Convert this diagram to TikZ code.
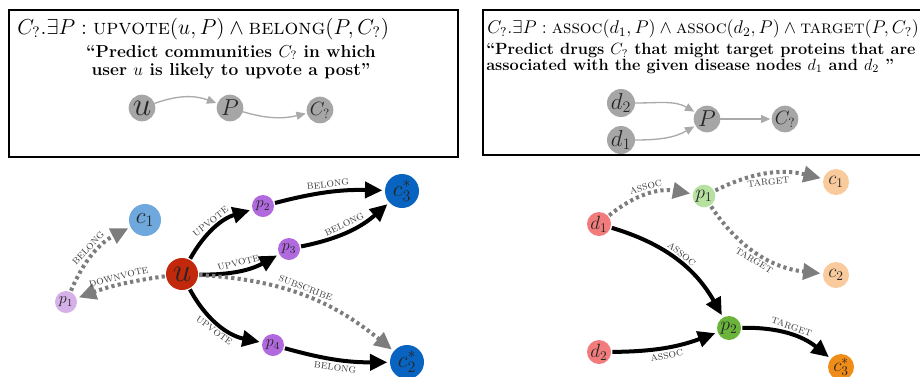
\RequirePackage{fix-cm}
\documentclass[tikz,border=0pt]{standalone}
\usepackage{graphicx}
\usetikzlibrary{arrows.meta}
\usetikzlibrary{calc,positioning}

\definecolor{miniGray}{RGB}{166,166,166}
\definecolor{miniEdge}{RGB}{170,170,170}
\definecolor{dotGray}{RGB}{125,125,125}
\definecolor{userRed}{RGB}{194,40,12}
\definecolor{postLight}{RGB}{214,176,232}
\definecolor{postPurple}{RGB}{176,106,222}
\definecolor{commLight}{RGB}{111,168,220}
\definecolor{commBlue}{RGB}{8,100,192}
\definecolor{disRed}{RGB}{242,124,124}
\definecolor{protLight}{RGB}{183,225,161}
\definecolor{protGreen}{RGB}{106,180,60}
\definecolor{drugLight}{RGB}{249,203,156}
\definecolor{drugOrange}{RGB}{240,140,24}

\begin{document}
\begin{tikzpicture}[x=0.75pt,y=-0.75pt]
    \def\leftFont{\fontsize{13}{13.5}\selectfont}
    \def\rightFont{\fontsize{12.2}{9.8}\selectfont}
    \def\tipLength{13pt}
    \def\tipWidth{12pt}

    \tikzstyle{ent}=[circle,inner sep=0pt,outer sep=0pt,text=black!85]
    \tikzstyle{mini}=[ent,fill=miniGray,minimum size=20pt]
    \tikzstyle{miniarrow}=[draw=miniEdge,line width=1pt,-{Triangle[length=7pt,width=6pt]},shorten >=1pt]
    \tikzstyle{rel}=[line width=3pt,-{Triangle[length=\tipLength,width=\tipWidth]},shorten >=2pt,shorten <=1pt]
    \tikzstyle{miss}=[rel,draw=dotGray,dash pattern=on 2.4pt off 2.4pt]
    \tikzstyle{lbl}=[font=\fontsize{9}{10}\selectfont\scshape,text=black!75,sloped,midway,inner sep=2pt]

    \useasboundingbox (0,0) rectangle (920,376);

    % Query boxes
    \draw[line width=1.5pt] (9,10) rectangle (458,157);
    \draw[line width=1.5pt] (483,10) rectangle (960,155);

    \node[anchor=west,font=\leftFont,inner sep=0pt] (query1) at (17,29)
        {\scalebox{1.25}{$C_?.\exists P : \textsc{upvote}(u,P) \wedge \textsc{belong}(P,C_?)$}};
    \node[align=center,font=\leftFont\bfseries,inner sep=0pt] (quote1) at (231,62)
        {``Predict communities $C_?$ in which\\ user $u$ is likely to upvote a post''};

    \node[anchor=west,font=\rightFont,inner sep=0pt] (query2) at (487,29)
        {\scalebox{1.13}{$C_?.\exists P : \textsc{assoc}(d_1,P) \wedge \textsc{assoc}(d_2,P) \wedge \textsc{target}(P,C_?)$}};
    \node[anchor=north west,align=left,font=\rightFont\bfseries,inner sep=0pt] (quote2) at (486,43)
        {``Predict drugs $C_?$ that might target proteins that are\\ associated with the given disease nodes $d_1$ and $d_2$ ''};

    % Query graphs
    \node[mini,font=\Huge] (mu) at (142,108) {$u$};
    \node[mini,font=\LARGE] (mP) at (230,108) {$P$};
    \node[mini,font=\Large] (mC) at (320,110) {$C_?$};
    \draw[miniarrow] (mu) to[bend left=20] (mP);
    \draw[miniarrow] (mP) to[bend right=15] (mC);

    \node[mini,font=\LARGE] (md2) at (621,103) {$d_2$};
    \node[mini,font=\LARGE] (md1) at (621,140) {$d_1$};
    \node[mini,font=\LARGE] (mP2) at (707,119) {$P$};
    \node[mini,font=\Large] (mC2) at (785,119) {$C_?$};
    \draw[miniarrow] (md2.east) to[out=0,in=150] (mP2);
    \draw[miniarrow] (md1.east) to[out=0,in=210] (mP2);
    \draw[miniarrow] (mP2) -- (mC2);

    % Social network
    \node[ent,fill=userRed,minimum size=24pt,font=\Huge] (u) at (182,274) {$u$};
    \node[ent,fill=postLight,minimum size=16.5pt,font=\large] (p1) at (66,302) {$p_1$};
    \node[ent,fill=commLight,minimum size=24pt,font=\LARGE] (c1) at (145,220) {$c_1$};
    \node[ent,fill=postPurple,minimum size=16.5pt,font=\large] (p2) at (263,206) {$p_2$};
    \node[ent,fill=postPurple,minimum size=16.5pt,font=\large] (p3) at (289,249) {$p_3$};
    \node[ent,fill=postPurple,minimum size=16.5pt,font=\large] (p4) at (273,345) {$p_4$};
    \node[ent,fill=commBlue,minimum size=25.5pt,font=\LARGE] (c3) at (402,191) {$c_3^*$};
    \node[ent,fill=commBlue,minimum size=25.5pt,font=\LARGE] (c2) at (407,362) {$c_2^*$};

    \draw[rel] (u) to[bend left=22] node[lbl,above] {upvote} (p2);
    \draw[rel] (p2) to[bend left=8] node[lbl,above] {belong} (c3);
    \draw[rel] (u) to[bend right=15] node[lbl,above] {upvote} (p3);
    \draw[rel] (p3) to[bend right=15] node[lbl,above] {belong} (c3);
    \draw[rel] (u) to[bend right=25] node[lbl,below] {upvote} (p4);
    \draw[rel] (p4) to[bend right=8] node[lbl,below] {belong} (c2);
    \draw[miss] (u) to[bend right=6] node[lbl,above] {downvote} (p1);
    \draw[miss] (p1) to[bend left=20] node[lbl,above] {belong} (c1);
    \draw[miss] (u) to[bend left=18] node[lbl,above] {subscribe} (c2);

    % Biomedical network
    \node[ent,fill=disRed,minimum size=18pt,font=\Large] (rd1) at (599,224) {$d_1$};
    \node[ent,fill=disRed,minimum size=18pt,font=\Large] (rd2) at (599,352) {$d_2$};
    \node[ent,fill=protLight,minimum size=17pt,font=\Large] (rp1) at (704,196) {$p_1$};
    \node[ent,fill=protGreen,minimum size=18pt,font=\Large] (rp2) at (729,328) {$p_2$};
    \node[ent,fill=drugLight,minimum size=19.5pt,font=\Large] (rc1) at (836,182) {$c_1$};
    \node[ent,fill=drugLight,minimum size=19.5pt,font=\Large] (rc2) at (836,275) {$c_2$};
    \node[ent,fill=drugOrange,minimum size=19.5pt,font=\Large] (rc3) at (841,367) {$c_3^*$};

    \draw[miss] (rd1) to[bend left=25] node[lbl,above] {assoc} (rp1);
    \draw[miss] (rp1) to[bend left=20] node[lbl,below] {target} (rc1);
    \draw[miss] (rp1) to[bend right=25] node[lbl,below] {target} (rc2);
    \draw[rel] (rd1) to[bend left=22] node[lbl,above] {assoc} (rp2);
    \draw[rel] (rd2) to[bend right=10] node[lbl,below] {assoc} (rp2);
    \draw[rel] (rp2) to[bend left=20] node[lbl,above] {target} (rc3);
\end{tikzpicture}
\end{document}
